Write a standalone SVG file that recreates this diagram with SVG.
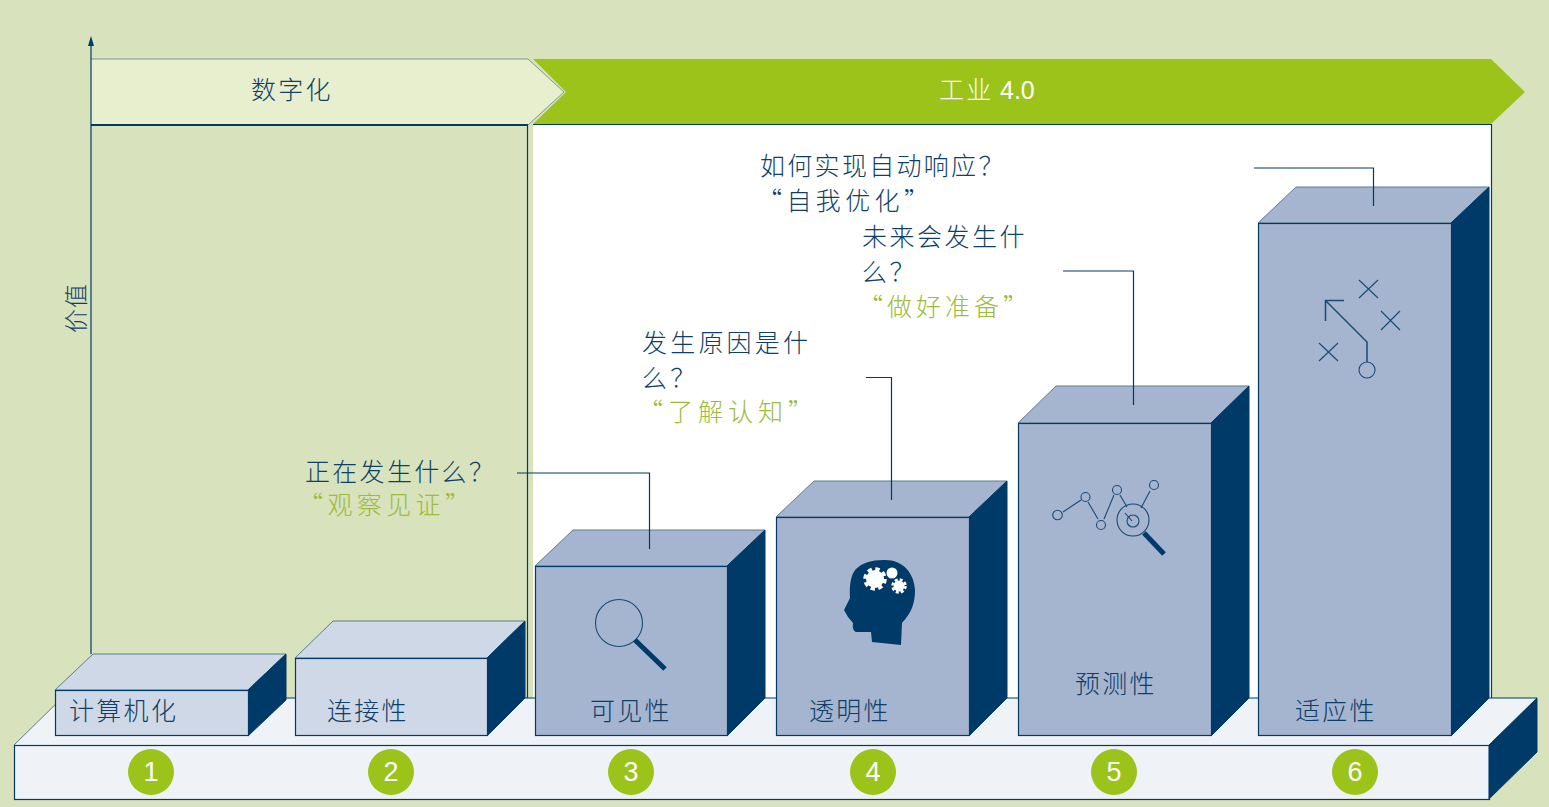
<svg xmlns="http://www.w3.org/2000/svg" width="1549" height="807" viewBox="0 0 1549 807">
<style>
text{font-family:"Noto Sans CJK SC","Liberation Sans",sans-serif;font-size:25px;font-weight:300;letter-spacing:2.3px;fill:#0e3f68}
.g{fill:#9dbb3c}
.w{fill:#fff}
.num{font-family:"Liberation Sans",sans-serif;font-size:27px;font-weight:400;letter-spacing:0;fill:#fff;text-anchor:middle}
.lt{fill:#cfd8e6;stroke:#003a68;stroke-width:1.2}
.lt2{fill:#cfd8e6;stroke:#5f7d8c;stroke-width:1}
.md{fill:#a5b4cf;stroke:#003a68;stroke-width:1.2}
.md2{fill:#a5b4cf;stroke:#5f7d8c;stroke-width:1}
.dk{fill:#003a68;stroke:#003a68;stroke-width:1}
.ln{fill:none;stroke:#003a68;stroke-width:1.2}
.ic{fill:none;stroke:#1a4a75;stroke-width:1.1}
.hd{stroke:#003a68;stroke-width:5;fill:none}
.c{fill:#9bc31a}
</style>
<defs>
<marker id="ah" markerWidth="11" markerHeight="8" refX="1" refY="4" orient="auto" markerUnits="userSpaceOnUse"><path d="M0 1L10 4L0 7Z" fill="#003a68"/></marker>
</defs>
<rect width="1549" height="807" fill="#d8e2bc"/>
<g id="panel">
<rect x="533" y="124" width="958" height="574" fill="#fff"/>
<path class="ln" d="M533 124.500H1491.500V698"/>
<path class="ln" d="M527.500 125V698"/>
</g>
<g id="banner-industry">
<path d="M533 59H1491L1525 92L1491 124H533L566 92Z" fill="#9bc31a"/>
<text class="w" x="939" y="99">工业 <tspan x="1000" style="font-family:'Liberation Sans',sans-serif;letter-spacing:0">4.0</tspan></text>
</g>
<g id="banner-digital">
<path d="M91 59H528L564 92L528 125H91Z" fill="#e8efcf"/>
<path d="M91 59H528L564 92L528 125" fill="none" stroke="#7a95a0" stroke-width="1"/>
<path d="M91 125H528" stroke="#003a68" stroke-width="2" fill="none"/>
<text x="251" y="99">数字化</text>
</g>
<g id="axis-label"><text transform="translate(85 333) rotate(-90)" style="font-size:24px;letter-spacing:1px">价值</text></g>
<g id="base">
<path d="M14 745L62 698H1537L1489 745Z" fill="#eff3f8"/>
<path d="M14 745L62 698" stroke="#5f7d8c" fill="none"/>
<path class="ln" d="M62 698H1537"/>
<rect x="14.500" y="745.500" width="1475" height="54" fill="#eff3f8" stroke="#003a68" stroke-width="1.2"/>
<path class="dk" d="M1489 745L1537 698V752L1489 799Z"/>
</g>
<g id="node-1">
<path class="lt2" d="M55 690L93 654H286L248 690Z"/>
<path class="dk" d="M248 690L286 654V700L248 736Z"/>
<rect class="lt" x="55.500" y="690.500" width="193" height="45"/>
<text x="69" y="720">计算机化</text>
</g>
<g id="node-2">
<path class="lt2" d="M295 658L333 621H525L487 658Z"/>
<path class="dk" d="M487 658L525 621V698L487 736Z"/>
<rect class="lt" x="295.500" y="658.500" width="192" height="77"/>
<text x="327" y="720">连接性</text>
</g>
<g id="node-3">
<path class="md2" d="M535 566L573 530H765L727 566Z"/>
<path class="dk" d="M727 566L765 530V698L727 736Z"/>
<rect class="md" x="535.500" y="566.500" width="192" height="169"/>
<circle class="ic" cx="619" cy="623" r="23.500"/>
<path class="hd" d="M635 640L665 669"/>
<text x="590" y="720">可见性</text>
</g>
<g id="node-4">
<path class="md2" d="M776 517L814 481H1007L969 517Z"/>
<path class="dk" d="M969 517L1007 481V698L969 736Z"/>
<rect class="md" x="776.500" y="517.500" width="193" height="218"/>
<path d="M883 560C902 559 914 572 915 590C915 603 912 612 902 623L901 645L872 642L871 632L856 632Q852 631 853 623L848 617L844 610L850 598C849 585 851 574 856 569C862 563 872 560 883 560Z" fill="#003a68"/>
<circle cx="875" cy="579" r="9" fill="#fff"/><circle cx="875" cy="579" r="10" fill="none" stroke="#fff" stroke-width="3.500" stroke-dasharray="4.400 3.450"/>
<circle cx="892" cy="573" r="5.500" fill="#fff"/>
<circle cx="899" cy="586" r="5.500" fill="#fff"/><circle cx="899" cy="586" r="6.500" fill="none" stroke="#fff" stroke-width="2.500" stroke-dasharray="3 2.100"/>
<text x="809" y="720">透明性</text>
</g>
<g id="node-5">
<path class="md2" d="M1018 423L1056 386H1249L1211 423Z"/>
<path class="dk" d="M1211 423L1249 386V698L1211 736Z"/>
<rect class="md" x="1018.500" y="423.500" width="193" height="312"/>
<path class="ic" d="M1063 512L1081 500M1088 502L1098 519M1104 519L1114 495M1120 495L1127 507M1125 513L1132 521M1141 508L1150 491"/>
<circle class="ic" cx="1057.500" cy="515" r="4.800"/>
<circle class="ic" cx="1085.500" cy="497" r="4.500"/>
<circle class="ic" cx="1101" cy="525" r="4.500"/>
<circle class="ic" cx="1117" cy="490" r="4.500"/>
<circle class="ic" cx="1154" cy="485" r="4.500"/>
<circle class="ic" cx="1133" cy="520" r="16"/>
<circle class="ic" cx="1133" cy="521" r="6"/>
<path class="hd" d="M1144 533L1164 554"/>
<text x="1075" y="693">预测性</text>
</g>
<g id="node-6">
<path class="md2" d="M1258 223L1296 187H1489L1451 223Z"/>
<path class="dk" d="M1451 223L1489 187V698L1451 736Z"/>
<rect class="md" x="1258.500" y="223.500" width="193" height="512"/>
<path class="ic" d="M1344 300.500H1325.500V321M1325.500 300.500L1367 342V362" style="stroke-width:1.5"/>
<circle class="ic" cx="1367" cy="370" r="8"/>
<path class="ic" d="M1359 280L1378 298M1378 280L1359 298M1381 311L1400 330M1400 311L1381 330M1319 343L1338 361M1338 343L1319 361"/>
<text x="1295" y="720">适应性</text>
</g>
<g id="connectors">
<path class="ln" d="M91 654V45" marker-end="url(#ah)"/>
<path class="ln" d="M517 473H649.500V549"/>
<path class="ln" d="M866 377.500H891.500V500"/>
<path class="ln" d="M1063 271H1133.500V405"/>
<path class="ln" d="M1254 168H1373.500V206"/>
</g>
<g id="label-3"><text x="305" y="481">正在发生什么？</text><text class="g" x="298" y="514" style="letter-spacing:4.400px">“观察见证”</text></g>
<g id="label-4"><text x="642" y="352" style="letter-spacing:3.200px">发生原因是什</text><text x="642" y="387" style="letter-spacing:3.200px">么？</text><text class="g" x="638" y="421" style="letter-spacing:5px">“了解认知”</text></g>
<g id="label-5"><text x="862" y="246" style="letter-spacing:2.500px">未来会发生什</text><text x="862" y="281" style="letter-spacing:2.500px">么？</text><text class="g" x="858" y="316" style="letter-spacing:4px">“做好准备”</text></g>
<g id="label-6"><text x="760" y="175">如何实现自动响应？</text><text x="757" y="210" style="letter-spacing:4.400px">“自我优化”</text></g>
<g id="badges">
<circle class="c" cx="151" cy="772" r="23"/><text class="num" x="151" y="781">1</text>
<circle class="c" cx="391" cy="772" r="23"/><text class="num" x="391" y="781">2</text>
<circle class="c" cx="631" cy="772" r="23"/><text class="num" x="631" y="781">3</text>
<circle class="c" cx="873" cy="772" r="23"/><text class="num" x="873" y="781">4</text>
<circle class="c" cx="1114" cy="772" r="23"/><text class="num" x="1114" y="781">5</text>
<circle class="c" cx="1355" cy="772" r="23"/><text class="num" x="1355" y="781">6</text>
</g>
</svg>
